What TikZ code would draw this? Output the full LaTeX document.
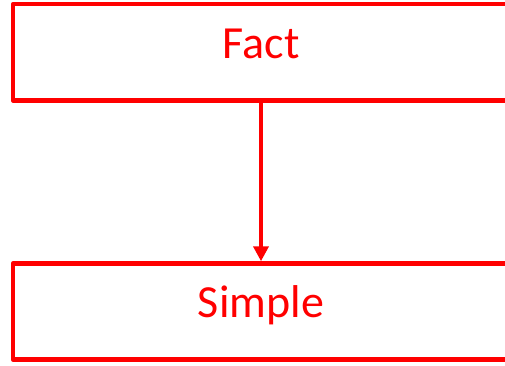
\documentclass[tikz,border=0pt]{standalone}
\usepackage{fontspec}
\setmainfont{Carlito}
\usetikzlibrary{arrows.meta}
\definecolor{boxred}{RGB}{255,0,0}
\begin{document}
\begin{tikzpicture}[x=1pt,y=1pt,
  stagebox/.style={draw=boxred, line width=4.5pt, line join=round, rectangle,
    minimum width=496pt, minimum height=96pt, inner sep=0pt,
    text=boxred, font=\fontsize{46}{55}\selectfont,
    text height=32pt, text depth=20pt},
  flowarrow/.style={draw=boxred, line width=4.5pt, -{Triangle[length=15pt,width=15pt]}}]
\useasboundingbox (0,0) rectangle (505,365);
\node[stagebox] (fact) at (261,312.75) {Fact};
\node[stagebox] (simple) at (261,53.5) {Simple};
\draw[flowarrow] (fact.south) -- (simple.north);
\end{tikzpicture}
\end{document}
